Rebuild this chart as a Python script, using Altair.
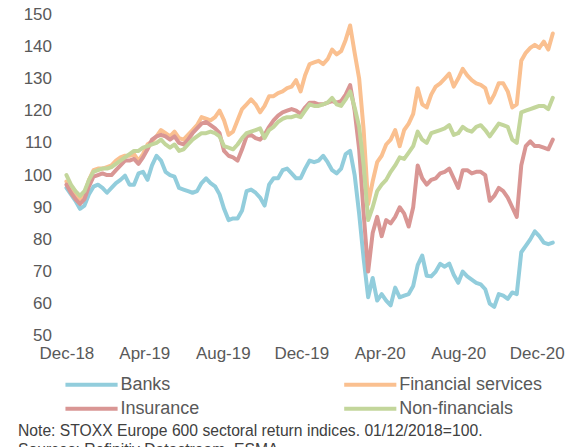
import altair as alt
import pandas as pd

# weekly observation dates (x positions of the readings)
dates = pd.date_range("2018-12-01", periods=109, freq="7D")

series_names = ["Banks", "Financial services", "Insurance", "Non-financials"]
series_colors = ["#92CDDC", "#FAC090", "#D99694", "#C3D69B"]

banks = [96, 94, 92, 89.5, 90.5, 94, 96.4, 97, 96, 94.5,
         96, 97.5, 98.5, 99.8, 97, 97, 100.5, 101, 98.5, 103,
         106, 104.5, 101, 100, 99.5, 96, 95.5, 95, 94.5, 95,
         97.5, 99, 97.5, 96.5, 94, 89.5, 86, 86.5, 86.5, 89,
         95, 95.5, 94.5, 93, 90.5, 97, 99, 99, 101.5, 102,
         100.5, 99, 99, 102, 104.5, 104, 104.5, 106, 104, 101.5,
         100.5, 102, 106.5, 107.5, 100, 88, 74, 62, 68, 61,
         63, 61, 59.5, 65, 62, 62.5, 63, 65.5, 72, 75,
         68.7, 68.5, 70, 72.4, 71.5, 72.5, 69, 66.5, 70, 68.5,
         67.5, 66.5, 66, 64.5, 60, 59, 63, 62.5, 61.5, 63.5,
         63, 76, 78, 80, 82.5, 81, 79, 78.5, 79]

fin_services = [98, 96, 93.5, 92, 94, 98.5, 101.5, 102, 102, 102.5,
                103, 104.5, 105.5, 106, 106, 106.5, 104.5, 106.5, 109.5, 110.5,
                112, 114, 113, 112, 113.5, 111.5, 111, 112.5, 114, 115.5,
                118, 117.5, 117, 118, 120, 117, 112.5, 113.5, 117, 120.5,
                122, 123.5, 122, 119.5, 121.5, 124.5, 124.5, 125.5, 126, 127,
                127.5, 129.5, 126, 131, 134.5, 135, 135.5, 134.5, 136, 139,
                137.5, 138.5, 142, 146.5, 138, 130, 114, 91, 98, 104,
                106, 109.5, 111, 114, 109, 114, 116, 119, 127, 122,
                121, 125, 127.5, 128.5, 130, 131.5, 127.5, 130, 133, 131,
                129.5, 128.5, 128, 127, 122.5, 125, 128.5, 128.5, 126, 121,
                122, 135.5, 138, 139.5, 140.5, 139.5, 141.5, 139, 144]

insurance = [97, 94.5, 92.5, 91, 92.5, 96.5, 99.5, 100, 100.5, 100,
             100, 101.5, 103, 104.5, 104.5, 105, 103.5, 105.5, 108, 111,
             112, 112.5, 112, 111, 112, 110, 109.5, 111, 113, 114.5,
             116, 116.5, 115.5, 114.5, 113, 107.5, 106, 105.5, 104.5, 108,
             112, 112.5, 111.5, 111, 112.5, 115, 117, 118.5, 119.5, 120,
             120.5, 120, 119, 121, 122.5, 122.5, 122, 122, 122.5, 123,
             122.5, 123, 125, 128, 120, 108, 88, 70, 82, 87,
             81, 86, 85, 87, 90, 88, 84, 90, 103, 99,
             97, 98.5, 99, 100.5, 101, 102, 99, 96, 101.5, 101.5,
             100.5, 101, 101, 100, 92, 93.5, 96, 95, 93, 90,
             87, 103, 109, 110.5, 109, 109, 108.5, 108, 111]

non_financials = [100, 97, 95, 93.5, 95, 98.5, 101, 101.5, 102, 102,
                  102.5, 103.5, 104.5, 105.5, 106.5, 107.5, 107.5, 108.5, 109, 109.5,
                  110, 111, 109.5, 108.5, 109.5, 107.5, 108, 109.5, 111, 112,
                  113, 113, 113.5, 113, 112, 109, 108.5, 108, 109.5, 111.5,
                  113, 113.5, 114, 114.5, 111.5, 114, 115, 116.5, 117.5, 118,
                  118, 118.5, 118, 120, 122, 121.5, 121.5, 122, 122.5, 124,
                  122, 121.5, 123.5, 126, 121, 115, 103, 86, 90, 95,
                  97, 98.5, 101, 103, 105.5, 105, 107, 109, 113.5, 111,
                  110, 113, 113.5, 114, 114.5, 115.5, 112.5, 113, 115, 114,
                  113.5, 115, 115.5, 114, 112, 114, 116, 115.5, 115, 111,
                  110, 119.5, 120, 120.5, 121, 121.5, 121.5, 120.5, 124]

tick_dates = [(2018, 12), (2019, 4), (2019, 8), (2019, 12), (2020, 4), (2020, 8), (2020, 12)]
y_ticks = [50, 60, 70, 80, 90, 100, 110, 120, 130, 140, 150]

note_lines = ["Note: STOXX Europe 600 sectoral return indices. 01/12/2018=100.",
              "Sources: Refinitiv Datastream, ESMA."]

frames = []
for name, vals in zip(series_names, [banks, fin_services, insurance, non_financials]):
    frames.append(pd.DataFrame({"date": dates, "value": vals, "series": name}))
df = pd.concat(frames, ignore_index=True)

FONT = "Liberation Sans"
GREY = "#595959"

lines = alt.Chart(df).mark_line(strokeWidth=4, strokeJoin="round", strokeCap="round").encode(
    x=alt.X("date:T",
            scale=alt.Scale(domain=[alt.DateTime(year=2018, month=12, date=1),
                                    alt.DateTime(year=2020, month=12, date=31)]),
            axis=alt.Axis(values=[alt.DateTime(year=y, month=m, date=1) for y, m in tick_dates],
                          format="%b-%y", labelFontSize=17, labelColor=GREY, labelFont=FONT,
                          domain=False, ticks=False, grid=False, labelPadding=10,
                          labelFlush=False, labelOverlap=False, title=None)),
    y=alt.Y("value:Q",
            scale=alt.Scale(domain=[50, 150], nice=False, zero=False),
            axis=alt.Axis(values=y_ticks, labelFontSize=17, labelColor=GREY, labelFont=FONT,
                          domain=False, ticks=False, grid=False, labelPadding=15, title=None)),
    color=alt.Color("series:N",
                    scale=alt.Scale(domain=series_names, range=series_colors),
                    legend=alt.Legend(orient="none", legendX=-3, legendY=360, columns=2,
                                      direction="horizontal",
                                      symbolType="M-1,0H4.8", symbolSize=324, symbolStrokeWidth=4,
                                      labelFontSize=18, labelFont=FONT, labelColor=GREY,
                                      labelOffset=35, columnPadding=136, rowPadding=4,
                                      padding=0, title=None, labelLimit=300)),
)

note = alt.Chart(pd.DataFrame({"text": ["\n".join(note_lines)]})).mark_text(
    align="left", baseline="top", fontSize=15.7, font=FONT, color="#404040",
    lineBreak="\n", lineHeight=19
).encode(x=alt.value(-48.5), y=alt.value(410), text="text:N")

chart = alt.layer(lines, note).properties(
    width=490, height=322, autosize="none",
    padding={"left": 58.5, "top": 6, "right": 10, "bottom": 125}
).configure_view(stroke=None)

chart.save("out.html", embed_options={"renderer": "svg", "actions": False})
